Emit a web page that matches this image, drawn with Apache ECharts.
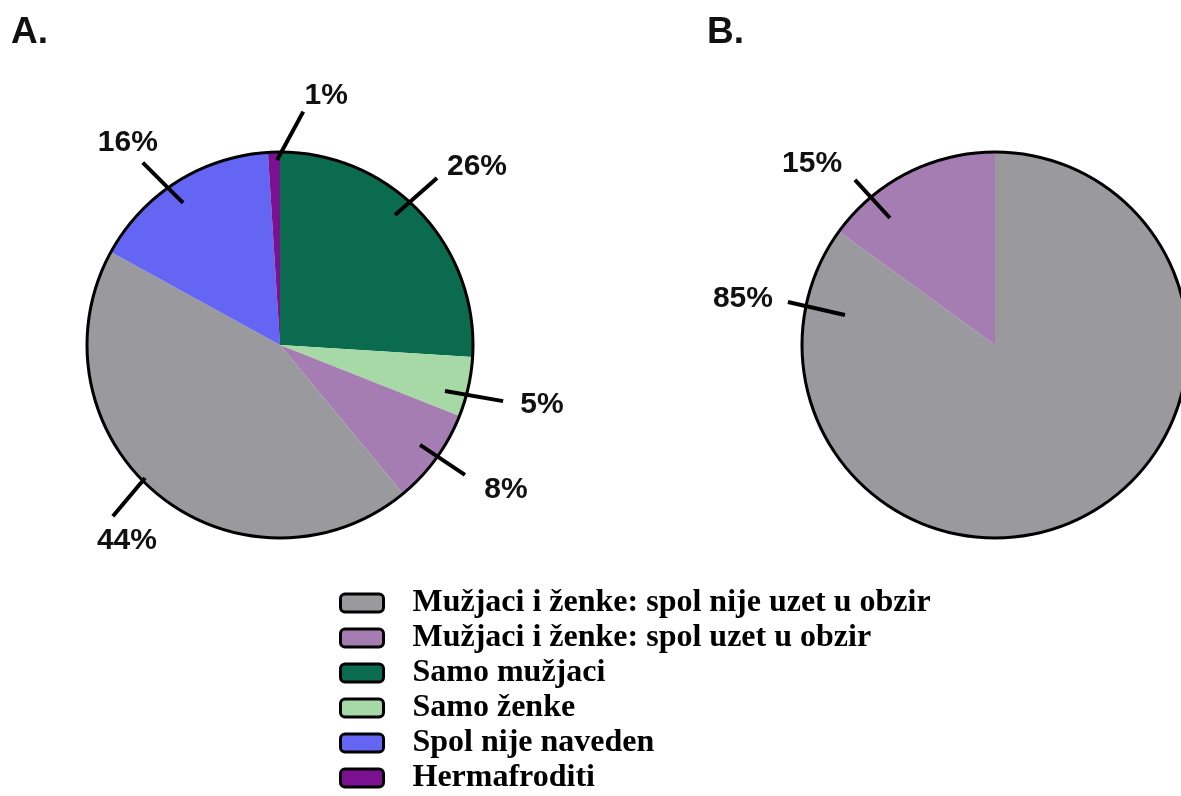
<!DOCTYPE html>
<html>
<head>
<meta charset="utf-8">
<script src="https://cdn.jsdelivr.net/npm/echarts@6/dist/echarts.min.js"></script>
<style>
html,body{margin:0;padding:0;background:#fff;}
#main{width:1181px;height:796px;}
</style>
</head>
<body>
<div id="main"></div>
<script>
// ---- data ----
const categories = [
  'Mužjaci i ženke: spol nije uzet u obzir',
  'Mužjaci i ženke: spol uzet u obzir',
  'Samo mužjaci',
  'Samo ženke',
  'Spol nije naveden',
  'Hermafroditi'
];
const pieANames = ['Samo mužjaci', 'Samo ženke', 'Mužjaci i ženke: spol uzet u obzir',
  'Mužjaci i ženke: spol nije uzet u obzir', 'Spol nije naveden', 'Hermafroditi'];
const pieAValues = [26, 5, 8, 44, 16, 1];
const pieBNames = ['Mužjaci i ženke: spol nije uzet u obzir', 'Mužjaci i ženke: spol uzet u obzir'];
const pieBValues = [85, 15];
const panelTitles = ['A.', 'B.'];

// ---- styles / layout ----
const colorMap = {
  'Mužjaci i ženke: spol nije uzet u obzir': '#9a999e',
  'Mužjaci i ženke: spol uzet u obzir': '#a67db3',
  'Samo mužjaci': '#0b6b4f',
  'Samo ženke': '#a7d9a7',
  'Spol nije naveden': '#6565f4',
  'Hermafroditi': '#7a1190'
};
const R = 193;
const centerA = [280, 345];
const centerB = [995, 345];
// leader-line and label placement, polar, degrees clockwise from 12 o'clock
const labelA = {
  startAngle: [41.5, 105.6, 125.5, 225.4, 325.7, 359.1],
  startR:     [173.6, 171.3, 172, 189.5, 172, 185],
  lineAngle:  [48.6, 99.8, 123.7, 220.1, 315, 28.4],
  lineLen:    [56, 59, 54, 50, 57, 55],
  textAngle:  [47.9, 102.9, 122.7, 218.0, 323.0, 10.5],
  textR:      [265.5, 268.8, 268.5, 248.6, 252.8, 253.2]
};
const labelB = {
  startAngle: [281.3, 320.4],
  startR:     [153, 164.8],
  lineAngle:  [282.8, 317.4],
  lineLen:    [58.5, 51.7],
  textAngle:  [280.3, 314.7],
  textR:      [256.2, 257.4]
};

const chart = echarts.init(document.getElementById('main'));

function polar(c, angDeg, r) {
  const a = angDeg * Math.PI / 180;
  return [c[0] + Math.sin(a) * r, c[1] - Math.cos(a) * r];
}

function makeLayout(center, cfg) {
  return function (p) {
    const i = p.dataIndex;
    const p1 = polar(center, cfg.startAngle[i], cfg.startR[i]);
    const p2 = polar(p1, cfg.lineAngle[i], cfg.lineLen[i]);
    const t = polar(center, cfg.textAngle[i], cfg.textR[i]);
    return {
      x: t[0], y: t[1],
      align: 'center', verticalAlign: 'middle',
      labelLinePoints: [p1, p2]
    };
  };
}

function pieSeries(center, names, values) {
  return {
    type: 'pie', z: 2,
    center: center,
    radius: [0, R],
    startAngle: 90, clockwise: true,
    animation: false, silent: true,
    data: names.map((n, i) => ({name: n, value: values[i], itemStyle: {color: colorMap[n]}})),
    itemStyle: {borderWidth: 0},
    label: {show: false}, labelLine: {show: false},
    emphasis: {disabled: true}
  };
}

function labelSeries(center, names, values, cfg) {
  return {
    type: 'pie', z: 4,
    center: center,
    radius: [0, R],
    startAngle: 90, clockwise: true,
    avoidLabelOverlap: false,
    animation: false, silent: true,
    legendHoverLink: false,
    data: names.map((n, i) => ({name: n, value: values[i], itemStyle: {color: 'rgba(0,0,0,0)'}})),
    label: {
      show: true, position: 'outside', formatter: '{c}%',
      fontFamily: 'Liberation Sans, Arial, sans-serif', fontWeight: 'bold', fontSize: 30, color: '#111'
    },
    labelLine: {show: true, length: 20, length2: 0, lineStyle: {color: '#000', width: 4}},
    labelLayout: makeLayout(center, cfg),
    emphasis: {disabled: true}
  };
}

function outline(center) {
  return {
    type: 'pie', z: 3, center: center, radius: [R - 1.5, R + 1.5], silent: true, animation: false,
    label: {show: false}, labelLine: {show: false},
    data: [{name: '__outline', value: 1, itemStyle: {color: '#000'}}]
  };
}

chart.setOption({
  backgroundColor: '#fff',
  title: [
    {text: panelTitles[0], left: 6, top: 9, textStyle: {fontFamily: 'Liberation Sans, Arial', fontWeight: 'bold', fontSize: 37, color: '#111'}},
    {text: panelTitles[1], left: 702, top: 9, textStyle: {fontFamily: 'Liberation Sans, Arial', fontWeight: 'bold', fontSize: 37, color: '#111'}}
  ],
  legend: {
    orient: 'vertical', left: 339, top: 587, padding: 0,
    width: 800, height: 300,
    data: categories,
    icon: 'roundRect',
    itemWidth: 43, itemHeight: 18, itemGap: 3,
    itemStyle: {borderColor: '#000', borderWidth: 3},
    selectedMode: false,
    textStyle: {fontFamily: 'Liberation Serif, Times New Roman, serif', fontWeight: 'bold', fontSize: 32, lineHeight: 31, color: '#000', padding: [0, 0, 0, 24]}
  },
  series: [
    pieSeries(centerA, pieANames, pieAValues),
    outline(centerA),
    labelSeries(centerA, pieANames, pieAValues, labelA),
    pieSeries(centerB, pieBNames, pieBValues),
    outline(centerB),
    labelSeries(centerB, pieBNames, pieBValues, labelB)
  ]
});
</script>
</body>
</html>
